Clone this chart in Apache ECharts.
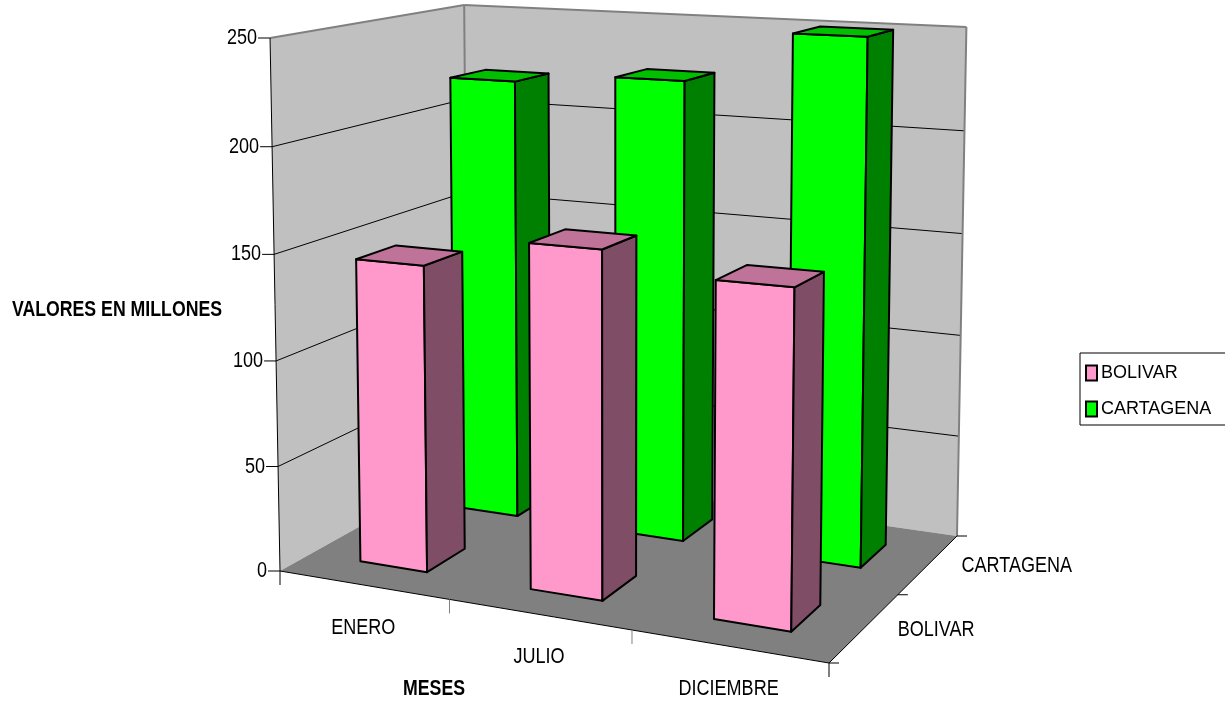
<!DOCTYPE html>
<html><head><meta charset="utf-8">
<style>html,body{margin:0;padding:0;background:#fff}#c{width:1225px;height:704px}</style>
<script src="https://cdn.jsdelivr.net/npm/echarts@6/dist/echarts.min.js"></script>
</head><body><div id="c"></div>
<script>
const months = ['ENERO','JULIO','DICIEMBRE'];
const depthNames = ['BOLIVAR','CARTAGENA'];
const yTicks = [0,50,100,150,200,250];
const bolivar = [145,160,151];
const cartagena = [220,225,250];

const FONT = "'Liberation Sans',Arial,sans-serif";
const FS = 22, SX = 0.82, SX_BOLD = 0.805;
const floorQuad = [[280,571],[829,663],[957,536],[468,466]]; // (u,v): 00,10,11,01
const wallH = [533,598,509,461];                             // pixel height at the same corners
const VP = [620,18800];                                      // vertical vanishing point
const BAR_W = 0.4/3, BAR_D = 0.2;

function hom(q){
  const [p0,p1,p2,p3]=q;
  const dx1=p1[0]-p2[0],dx2=p3[0]-p2[0],sx=p0[0]-p1[0]+p2[0]-p3[0];
  const dy1=p1[1]-p2[1],dy2=p3[1]-p2[1],sy=p0[1]-p1[1]+p2[1]-p3[1];
  const den=dx1*dy2-dx2*dy1;
  const g=(sx*dy2-dx2*sy)/den,h=(dx1*sy-sx*dy1)/den;
  const a=p1[0]-p0[0]+g*p1[0],b=p3[0]-p0[0]+h*p3[0],c=p0[0];
  const d=p1[1]-p0[1]+g*p1[1],e=p3[1]-p0[1]+h*p3[1],f=p0[1];
  return (u,v)=>{const w=g*u+h*v+1;return [(a*u+b*v+c)/w,(d*u+e*v+f)/w];};
}
const floorH=hom(floorQuad);
function heightAt(u,v){
  const i=wallH.map(h=>1/h);
  const f=i[0]+(i[1]-i[0])*u, b=i[3]+(i[2]-i[3])*u;
  return 1/(f+(b-f)*v);
}
function P(uIn,v,t){
  const u=uIn-0.016*uIn*(1-uIn);
  const k=t/(1.025-0.025*t);
  const a=floorH(u,v), h=heightAt(u,v)*k;
  return [a[0]+(a[0]-VP[0])*h/(VP[1]-a[1]), a[1]-h];
}
function poly(points,fill,stroke,lw){
  return {type:'polygon',shape:{points},style:{fill,stroke:stroke||null,lineWidth:lw||0,lineJoin:'round'}};
}
function line(a,b,stroke,lw){
  return {type:'line',shape:{x1:a[0],y1:a[1],x2:b[0],y2:b[1]},style:{stroke,lineWidth:lw||1,fill:null}};
}
function label(text,x,y,align,weight){
  return {type:'text',x,y,scaleX:weight==='bold'?SX_BOLD:SX,style:{text,x:0,y:0,align:align||'center',verticalAlign:'middle',fill:'#000',
    font:(weight||'normal')+' '+FS+'px '+FONT}};
}
function renderFrame(params,api){
  const cs=params.coordSys, kids=[];
  const tOf=val=>(cs.y+cs.height-api.coord([0,val])[1])/cs.height;
  kids.push(poly([P(0,0,0),P(0,1,0),P(0,1,1),P(0,0,1)],'#c0c0c0'));
  kids.push(poly([P(0,1,0),P(1,1,0),P(1,1,1),P(0,1,1)],'#c0c0c0'));
  kids.push(poly([P(0,0,0),P(1,0,0),P(1,1,0),P(0,1,0)],'#808080'));
  yTicks.forEach(val=>{
    const t=tOf(val);
    if(val>0 && val<250){
      kids.push(line(P(0,0,t),P(0,1,t),'#000',1));
      kids.push(line(P(0,1,t),P(1,1,t),'#000',1));
    }
    const p=P(0,0,t);
    kids.push(line([p[0]-12,p[1]],p,'#000',1));
    kids.push(label(String(val),p[0]-13,p[1],'right'));
  });
  kids.push(line(P(0,0,1),P(0,1,1),'#808080',2));
  kids.push(line(P(0,1,1),P(1,1,1),'#808080',2));
  kids.push(line(P(0,1,0),P(0,1,1),'#808080',2));
  kids.push(line(P(1,1,0),P(1,1,1),'#808080',2));
  kids.push(line(P(0,0,0),P(0,0,1),'#000',1));
  kids.push(line(P(0,0,0),P(1,0,0),'#000',1));
  kids.push(line(P(1,0,0),P(1,1,0),'#000',1));
  [0,1,2,3].forEach(i=>{
    const p=P(i/3,0,0);
    kids.push(line(p,[p[0],p[1]+14],(i==1||i==2)?'#808080':'#000',1));
  });
  [0,1,2].forEach(j=>{
    const p=P(1,j/2,0);
    kids.push(line(p,[p[0]+10,p[1]],'#000',1));
  });
  months.forEach((m,i)=>{
    const p=P((i+0.5)/3,0,0);
    kids.push(label(m,p[0],p[1]+43));
  });
  depthNames.forEach((n,j)=>{
    const p=P(1,(j+0.5)/2,0);
    kids.push(label(n,p[0]+33,p[1]+2,'left'));
  });
  kids.push(label('VALORES EN MILLONES',117,310,'center','bold'));
  kids.push(label('MESES',434,689,'center','bold'));
  return {type:'group',children:kids};
}
function barRenderer(depthIndex,front,side,topc){
  return function(params,api){
    const cs=params.coordSys;
    const c=api.coord([api.value(0),api.value(1)]);
    const uc=(c[0]-cs.x)/cs.width, t=(cs.y+cs.height-c[1])/cs.height;
    const vc=(depthIndex+0.5)/2;
    const u0=uc-BAR_W/2,u1=uc+BAR_W/2,v0=vc-BAR_D/2,v1=vc+BAR_D/2;
    const s='#000',lw=2;
    return {type:'group',children:[
      poly([P(u0,v0,0),P(u1,v0,0),P(u1,v0,t),P(u0,v0,t)],front,s,lw),
      poly([P(u1,v0,0),P(u1,v1,0),P(u1,v1,t),P(u1,v0,t)],side,s,lw),
      poly([P(u0,v0,t),P(u1,v0,t),P(u1,v1,t),P(u0,v1,t)],topc,s,lw)
    ]};
  };
}
const chart=echarts.init(document.getElementById('c'),null,{renderer:'canvas'});
chart.setOption({
  animation:false,
  backgroundColor:'#fff',
  grid:{left:270,top:38,width:560,height:533},
  xAxis:{type:'category',data:months,show:false},
  yAxis:{type:'value',min:0,max:250,interval:50,show:false},
  legend:{
    orient:'vertical',left:1080,top:353,padding:[11,30,7,5],itemGap:18,itemWidth:11,itemHeight:15,
    data:depthNames,borderColor:'#000',borderWidth:1,icon:'rect',
    textStyle:{fontFamily:FONT,fontSize:18,color:'#000',padding:[0,0,0,-1]},
    selectedMode:false
  },
  series:[
    {type:'custom',name:'frame',silent:true,z:1,data:[[0,0]],renderItem:renderFrame,encode:{x:0,y:1}},
    {type:'custom',name:'CARTAGENA',z:2,data:cartagena.map((v,i)=>[i,v]),encode:{x:0,y:1},
      itemStyle:{color:'#00ff00',borderColor:'#000',borderWidth:2},
      renderItem:barRenderer(1,'#00ff00','#008000','#00c000')},
    {type:'custom',name:'BOLIVAR',z:3,data:bolivar.map((v,i)=>[i,v]),encode:{x:0,y:1},
      itemStyle:{color:'#ff99cc',borderColor:'#000',borderWidth:2},
      renderItem:barRenderer(0,'#ff99cc','#804d66','#bf7399')}
  ]
});
</script></body></html>
